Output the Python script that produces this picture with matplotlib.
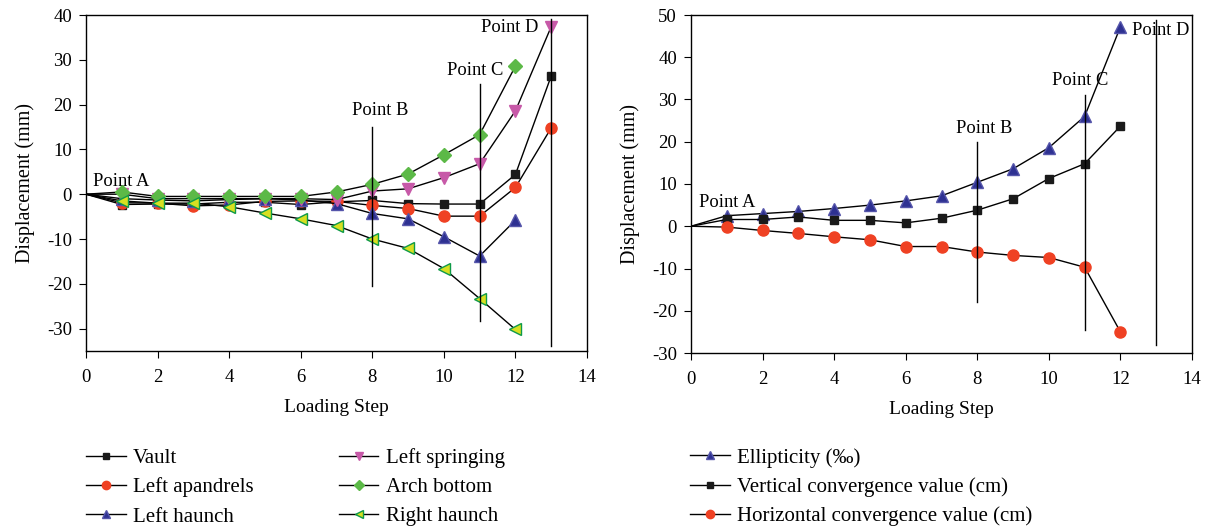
import matplotlib
matplotlib.use("Agg")
import matplotlib.pyplot as plt

plt.rcParams['font.family'] = ['Liberation Serif', 'DejaVu Serif']
plt.rcParams['font.size'] = 13
plt.rcParams['axes.unicode_minus'] = False

# ---------------- data ----------------
steps_left = [0, 1, 2, 3, 4, 5, 6, 7, 8, 9, 10, 11, 12, 13]
vault = [0, -2.3, -2.2, -2.2, -1.8, -1.8, -2.3, -1.7, -1.4, -2.1, -2.2, -2.2, 4.4, 26.4]
left_apandrels = [0, -1.9, -2.0, -2.6, -2.4, -1.6, -1.5, -1.6, -2.5, -3.2, -4.9, -4.9, 1.5, 14.8]
left_haunch = [0, -1.0, -1.3, -1.5, -1.2, -1.0, -1.3, -2.1, -4.3, -5.5, -9.5, -13.8, -5.8]
left_springing = [0, 0.0, -1.0, -1.0, -1.0, -1.0, -1.0, -1.2, 0.7, 1.2, 3.7, 6.8, 18.6, 37.4]
arch_bottom = [0, 0.5, -0.5, -0.5, -0.5, -0.5, -0.5, 0.5, 2.2, 4.5, 8.8, 13.3, 28.6]
right_haunch = [0, -1.5, -2.0, -2.0, -2.8, -4.2, -5.5, -7.0, -10.0, -12.1, -16.6, -23.3, -30.2]

steps_right = [0, 1, 2, 3, 4, 5, 6, 7, 8, 9, 10, 11, 12]
ellipticity = [0, 2.5, 3.0, 3.5, 4.2, 5.0, 6.0, 7.2, 10.4, 13.6, 18.6, 26.0, 47.2]
vertical_conv = [0, 1.6, 1.6, 2.2, 1.4, 1.4, 0.8, 1.9, 3.8, 6.5, 11.3, 14.8, 23.7]
horizontal_conv = [0, -0.2, -1.0, -1.7, -2.5, -3.2, -4.8, -4.8, -6.1, -6.9, -7.4, -9.7, -25.0]

# key points: (x, ymin, ymax, label_x, label_y)
left_points = {"Point A": (None, None, None, 0.2, 2.9),
               "Point B": (8, -20.4, 15.1, 7.44, 18.7),
               "Point C": (11, -28.3, 24.5, 10.08, 27.7),
               "Point D": (13, -33.9, 39.1, 11.05, 37.2)}
right_points = {"Point A": (None, None, None, 0.23, 5.6),
                "Point B": (8, -17.9, 20.0, 7.4, 23.2),
                "Point C": (11, -24.6, 31.1, 10.1, 34.4),
                "Point D": (13, -28.0, 48.8, 12.33, 46.3)}

RED = '#EF4123'
BLUE = '#2E3192'
PINK = '#C759A8'
GREEN = '#5CB947'
YELLOW = '#D7E021'
DKGREEN = '#0E9A48'

fig = plt.figure(figsize=(12.16, 5.29), dpi=100)
ax1 = fig.add_axes([86/1216, 1-351/529, (587-86)/1216, (351-15)/529])
ax2 = fig.add_axes([691/1216, 1-353/529, (1192-691)/1216, (353-15)/529])

def series(ax, x, y, label, marker, fc, ec, ms):
    n = len(y)
    ax.plot(x[:n], y, color='black', lw=1.0, marker=marker, markerfacecolor=fc,
            markeredgecolor=ec, markersize=ms, markevery=list(range(1, n)),
            label=label, markeredgewidth=1.0)

series(ax1, steps_left, vault, 'Vault', 's', '#1a1a1a', '#1a1a1a', 6)
series(ax1, steps_left, left_apandrels, 'Left apandrels', 'o', RED, RED, 8)
series(ax1, steps_left, left_haunch, 'Left haunch', '^', BLUE, '#5555AA', 8.5)
series(ax1, steps_left, left_springing, 'Left springing', 'v', PINK, PINK, 8.5)
series(ax1, steps_left, arch_bottom, 'Arch bottom', 'D', GREEN, GREEN, 7)
series(ax1, steps_left, right_haunch, 'Right haunch', '<', YELLOW, DKGREEN, 8)

series(ax2, steps_right, ellipticity, 'Ellipticity (‰)', '^', BLUE, '#5555AA', 8.5)
series(ax2, steps_right, vertical_conv, 'Vertical convergence value (cm)', 's', '#1a1a1a', '#1a1a1a', 6)
series(ax2, steps_right, horizontal_conv, 'Horizontal convergence value (cm)', 'o', RED, RED, 8)

for ax, pts in ((ax1, left_points), (ax2, right_points)):
    for name, (px, y0, y1, lx, ly) in pts.items():
        if px is not None:
            ax.plot([px, px], [y0, y1], color='black', lw=1.0)
        ax.text(lx, ly, name, ha='left', va='center', fontsize=13.3)

ax1.set_xlim(0, 14)
ax1.set_ylim(-35, 40)
ax1.set_yticks(range(-30, 41, 10))
ax2.set_xlim(0, 14)
ax2.set_ylim(-30, 50)
ax2.set_yticks(range(-30, 51, 10))

for ax in (ax1, ax2):
    ax.set_xticks(range(0, 15, 2))
    ax.tick_params(labelsize=13.5, length=5, direction='out')
    ax.tick_params(axis='x', pad=8)
    ax.tick_params(axis='y', pad=5)
    ax.set_xlabel('Loading Step', fontsize=14, labelpad=9)
    ax.set_ylabel('Displacement (mm)', fontsize=14.5, labelpad=9)
    for s in ax.spines.values():
        s.set_linewidth(1.0)

h1, l1 = ax1.get_legend_handles_labels()
fig.legend(h1, l1, loc='upper left', bbox_to_anchor=(86/1216, 1-448/529), ncol=2,
           frameon=False, fontsize=15, handlelength=1.9, handletextpad=0.35,
           columnspacing=4.1, labelspacing=0.46, borderaxespad=0, borderpad=0,
           markerscale=0.75)
h2, l2 = ax2.get_legend_handles_labels()
fig.legend(h2, l2, loc='upper left', bbox_to_anchor=(690/1216, 1-448/529), ncol=1,
           frameon=False, fontsize=15, handlelength=1.9, handletextpad=0.35,
           labelspacing=0.46, borderaxespad=0, borderpad=0, markerscale=0.75)

fig.savefig('out.png', dpi=100)
